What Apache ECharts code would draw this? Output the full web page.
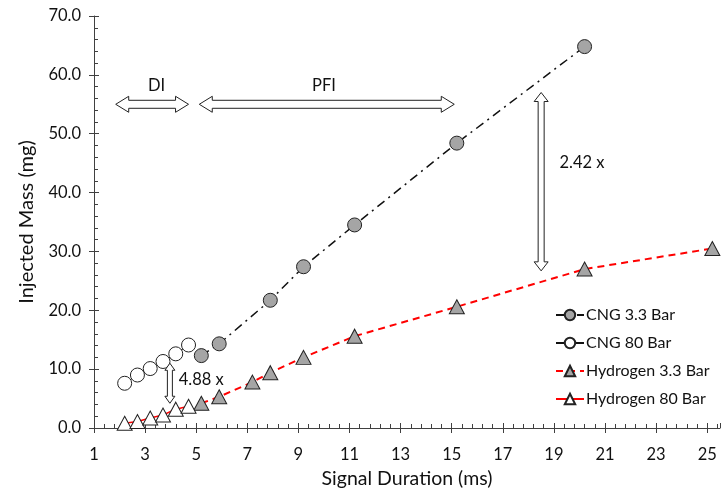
<!DOCTYPE html>
<html>
<head>
<meta charset="utf-8">
<script src="https://cdn.jsdelivr.net/npm/echarts@6/dist/echarts.min.js"></script>
<style>
  html, body { margin: 0; padding: 0; background: #fff; }
  #chart { width: 726px; height: 492px; }
</style>
</head>
<body>
<div id="chart"></div>
<script>
// signal durations (ms)
const diDuration = [2.2, 2.7, 3.2, 3.7, 4.2, 4.7];
const cngPfiDuration = [5.2, 5.9, 7.9, 9.2, 11.2, 15.2, 20.2];
const h2PfiDuration = [5.2, 5.9, 7.2, 7.9, 9.2, 11.2, 15.2, 20.2, 25.2];

// injected mass (mg)
const cng33 = [12.3, 14.3, 21.7, 27.4, 34.5, 48.4, 64.8];
const cng80 = [7.6, 9.0, 10.1, 11.3, 12.6, 14.1];
const h2_33 = [4.2, 5.3, 7.8, 9.4, 12.0, 15.6, 20.6, 27.0, 30.5];
const h2_80 = [0.8, 1.1, 1.7, 2.2, 3.2, 3.7];

const pairs = (xs, ys) => xs.map((x, i) => [x, ys[i]]);

const FONT = 'Lato';
const axisColor = '#404040';
const textColor = '#111';

const chartDom = document.getElementById('chart');
const chart = echarts.init(chartDom);

const option = {
  animation: false,
  textStyle: { fontFamily: FONT },
  grid: { left: 94, right: 6, top: 16, bottom: 64, outerBoundsMode: 'none' },
  legend: {
    orient: 'vertical',
    left: 550,
    top: 302,
    itemWidth: 28,
    itemHeight: 13,
    itemGap: 12,
    textStyle: { fontFamily: FONT, fontSize: 16, color: textColor, padding: [0, 0, 0, -3] },
    data: ['CNG 3.3 Bar', 'CNG 80 Bar', 'Hydrogen 3.3 Bar', 'Hydrogen 80 Bar']
  },
  xAxis: [
    {
      type: 'value',
      min: 1,
      max: 25.5,
      interval: 2,
      name: 'Signal Duration (ms)',
      nameLocation: 'middle',
      nameGap: 41,
      nameTextStyle: { fontFamily: FONT, fontSize: 19.5, color: textColor },
      axisLine: { show: true, onZero: false, lineStyle: { color: axisColor, width: 1 } },
      axisTick: { show: true, length: 5, lineStyle: { color: axisColor } },
      axisLabel: { fontFamily: FONT, fontSize: 16.5, color: textColor, margin: 18, showMaxLabel: false },
      splitLine: { show: false }
    },
    {
      type: 'value',
      min: 1,
      max: 25.5,
      interval: 2,
      position: 'bottom',
      axisLine: { show: false, onZero: false },
      axisTick: { show: true, inside: true, length: 5, lineStyle: { color: axisColor } },
      minorTick: { show: true, splitNumber: 5, length: 4, lineStyle: { color: axisColor } },
      axisLabel: { show: false },
      splitLine: { show: false }
    }
  ],
  yAxis: [
    {
      type: 'value',
      min: 0,
      max: 70,
      interval: 10,
      name: 'Injected Mass (mg)',
      nameLocation: 'middle',
      nameGap: 57,
      nameTextStyle: { fontFamily: FONT, fontSize: 20, color: textColor },
      axisLine: { show: true, lineStyle: { color: axisColor, width: 1 } },
      axisTick: { show: true, length: 5, lineStyle: { color: axisColor } },
      axisLabel: { fontFamily: FONT, fontSize: 16.5, color: textColor, margin: 13, formatter: v => v.toFixed(1) },
      splitLine: { show: false }
    },
    {
      type: 'value',
      min: 0,
      max: 70,
      interval: 10,
      position: 'left',
      axisLine: { show: false },
      axisTick: { show: true, inside: true, length: 5, lineStyle: { color: axisColor } },
      minorTick: { show: true, splitNumber: 5, length: 4, lineStyle: { color: axisColor } },
      axisLabel: { show: false },
      splitLine: { show: false }
    }
  ],
  series: [
    {
      name: 'CNG 3.3 Bar',
      type: 'line',
      data: pairs(cngPfiDuration, cng33),
      symbol: 'circle',
      symbolSize: 14,
      itemStyle: { color: '#a5a5a5', borderColor: '#222', borderWidth: 1 },
      lineStyle: { color: '#111', width: 1.5, type: [9, 5, 2, 5] },
      z: 3
    },
    {
      name: 'CNG 80 Bar',
      type: 'line',
      data: pairs(diDuration, cng80),
      symbol: 'circle',
      symbolSize: 14,
      itemStyle: { color: '#fff', borderColor: '#222', borderWidth: 1 },
      lineStyle: { color: '#111', width: 1 },
      z: 3
    },
    {
      name: 'Hydrogen 3.3 Bar',
      type: 'line',
      data: pairs(h2PfiDuration, h2_33),
      symbol: 'triangle',
      symbolSize: [15, 14],
      itemStyle: { color: '#a5a5a5', borderColor: '#222', borderWidth: 1 },
      lineStyle: { color: '#ff0000', width: 2, type: [7, 5] },
      z: 3
    },
    {
      name: 'Hydrogen 80 Bar',
      type: 'line',
      data: pairs(diDuration, h2_80),
      symbol: 'triangle',
      symbolSize: [15, 14],
      itemStyle: { color: '#fff', borderColor: '#222', borderWidth: 1 },
      lineStyle: { color: '#ff0000', width: 1.5 },
      z: 3
    }
  ]
};
chart.setOption(option);

// annotations, placed in data coordinates
const px = (x, y) => chart.convertToPixel({ gridIndex: 0 }, [x, y]);

function hArrow(x1, x2, y, L, H, h) {
  const a = px(x1, y), b = px(x2, y);
  const yc = a[1], l = a[0], r = b[0];
  return {
    type: 'polygon',
    z: 10,
    shape: { points: [
      [l, yc], [l + L, yc - H], [l + L, yc - h], [r - L, yc - h], [r - L, yc - H],
      [r, yc], [r - L, yc + H], [r - L, yc + h], [l + L, yc + h], [l + L, yc + H]
    ] },
    style: { fill: '#fff', stroke: '#222', lineWidth: 1 }
  };
}
function vArrow(x, y1, y2, L, H, h) {
  const a = px(x, y1), b = px(x, y2);
  const xc = a[0], t = a[1], btm = b[1];
  return {
    type: 'polygon',
    z: 10,
    shape: { points: [
      [xc, t], [xc + H, t + L], [xc + h, t + L], [xc + h, btm - L], [xc + H, btm - L],
      [xc, btm], [xc - H, btm - L], [xc - h, btm - L], [xc - h, t + L], [xc - H, t + L]
    ] },
    style: { fill: '#fff', stroke: '#222', lineWidth: 1 }
  };
}
function label(x, y, txt) {
  const p = px(x, y);
  return {
    type: 'text', z: 11, x: p[0], y: p[1],
    style: { text: txt, fontFamily: FONT, fontSize: 16.5, fill: textColor, align: 'center', verticalAlign: 'middle' }
  };
}

chart.setOption({
  graphic: [
    hArrow(1.85, 4.7, 55.0, 13, 8, 4),
    hArrow(5.12, 15.1, 55.0, 13, 8, 4),
    vArrow(18.5, 57.0, 26.7, 9, 7, 3),
    vArrow(3.97, 11.0, 4.2, 7, 5, 2.5),
    label(3.45, 58.2, 'DI'),
    label(10.0, 58.2, 'PFI'),
    label(20.1, 45.0, '2.42 x'),
    label(5.2, 8.2, '4.88 x')
  ]
});
</script>
</body>
</html>
